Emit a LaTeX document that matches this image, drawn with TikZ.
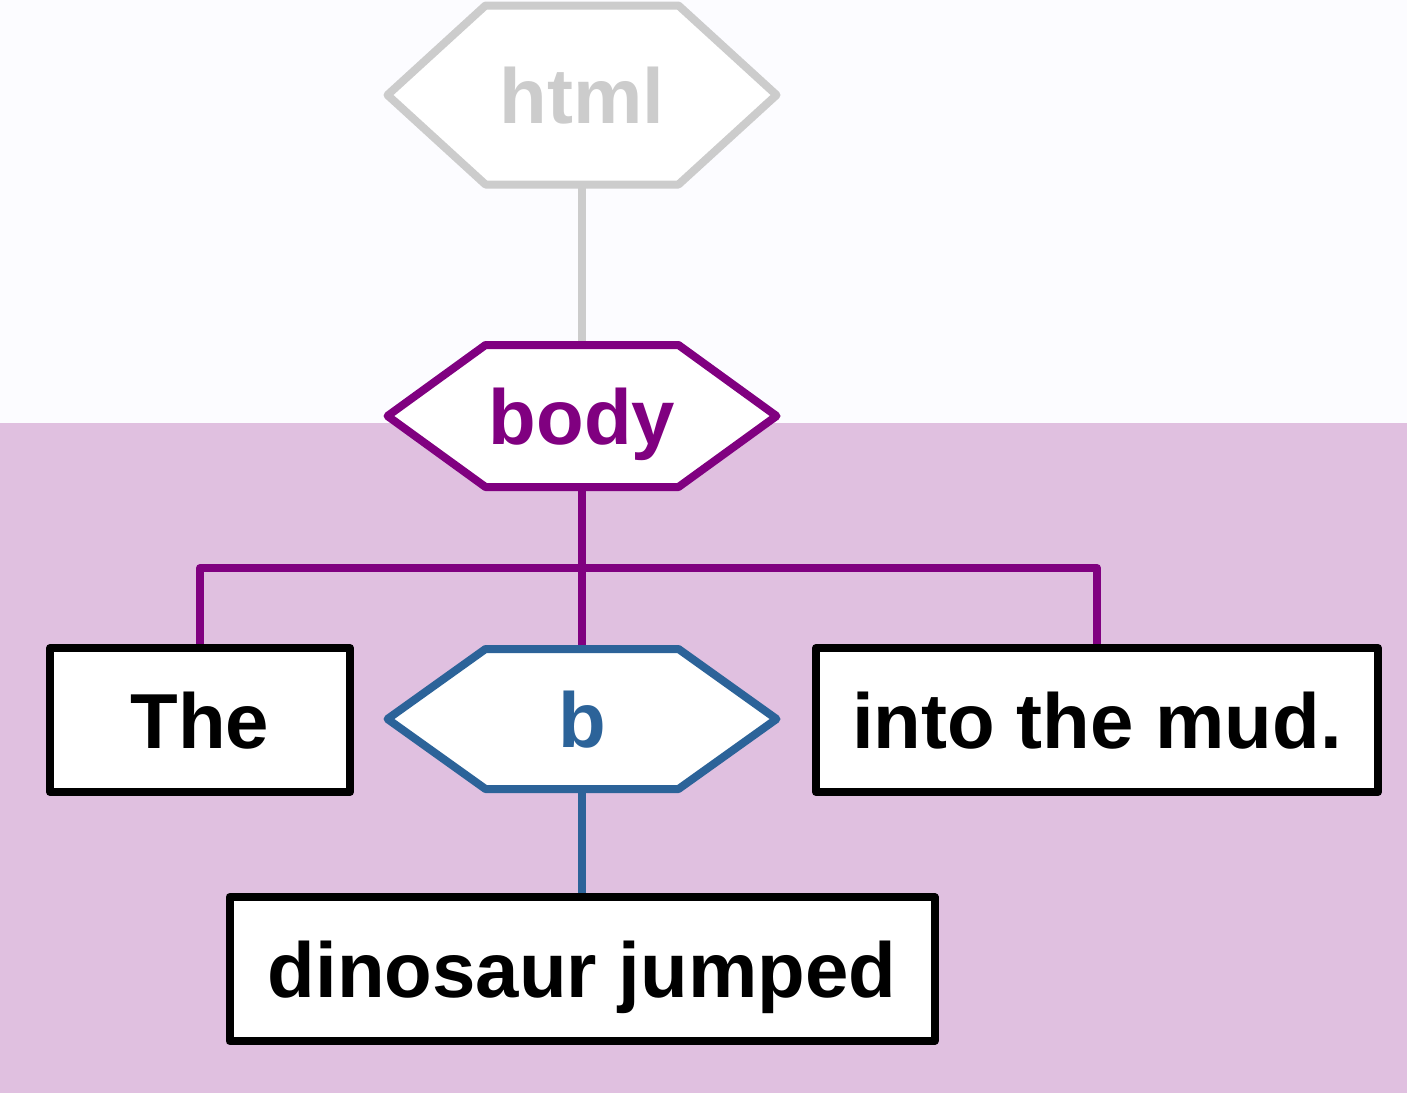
\documentclass[tikz,border=0pt]{standalone}
\usepackage{fontspec}
\setmainfont{Liberation Sans}
\usetikzlibrary{backgrounds}
\definecolor{paper}{HTML}{FCFCFF}
\definecolor{lilac}{HTML}{E0C0E0}
\definecolor{taggray}{HTML}{CCCCCC}
\definecolor{tagpurple}{HTML}{800080}
\definecolor{tagblue}{HTML}{2C6399}
\begin{document}
\begin{tikzpicture}[x=0.5pt, y=-0.5pt, line width=4pt, line join=round,
	font=\fontsize{39}{47}\selectfont\bfseries,
	tag/.style={inner sep=0pt, outer sep=0pt, text height=28pt, text depth=0pt, minimum width=96.5pt},
	txt/.style={draw, fill=white, inner sep=0pt, outer sep=0pt, text height=28pt, text depth=0pt, minimum height=72pt}]
	\useasboundingbox (0,0) rectangle (1407,1093);
	\node[tag, text=taggray, minimum height=89.5pt] (html) at (582,95) {html};
	\node[tag, text=tagpurple, minimum height=71pt] (body) at (582,416) {body};
	\node[tag, text=tagblue, minimum height=70pt] (b) at (582,719) {b};
	\node[txt, minimum width=150pt] (The) at (200,720) {The};
	\node[txt, minimum width=281pt] (mud) at (1097,720) {into the mud.};
	\node[txt, minimum width=352.5pt] (dino) at (582,969) {dinosaur jumped};
	\begin{scope}[on background layer={line width=4pt, line join=round}]
		\fill[paper] (0,0) rectangle (1407,423);
		\fill[lilac] (0,423) rectangle (1407,1093);
		\draw[taggray] (html) -- (body);
		\draw[tagpurple] (body) -- (b) (The.north) -- ++(0,-80) -| (mud.north);
		\draw[tagblue] (b) -- (dino);
		\foreach \n/\c in {html/taggray, body/tagpurple, b/tagblue}{
		\draw[\c, fill=white] (\n.north west) -- (\n.north east) -- ([xshift=49pt]\n.east) -- (\n.south east) -- (\n.south west) -- ([xshift=-49pt]\n.west) -- cycle;
		}
	\end{scope}
\end{tikzpicture}
\end{document}
